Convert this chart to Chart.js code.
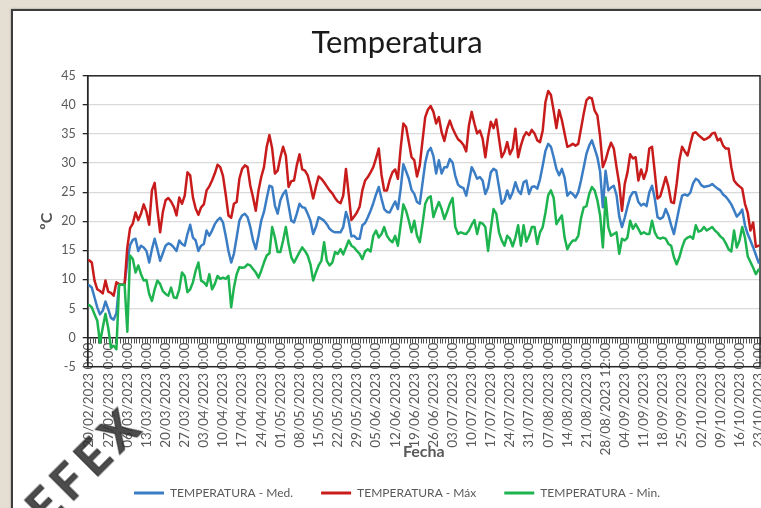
<!DOCTYPE html>
<html>
<head>
<meta charset="utf-8">
<script src="https://cdn.jsdelivr.net/npm/chart.js@4.4.1/dist/chart.umd.min.js"></script>
<style>
  html, body { margin: 0; padding: 0; width: 761px; height: 508px; overflow: hidden; background: #e5dfd3; }
  #frame { position: absolute; left: 11px; top: 9px; width: 780px; height: 520px; background: #fff;
           border: 2px solid #3d3d3d; box-shadow: 0 0 2px rgba(0,0,0,0.35); }
  #chart { position: absolute; left: 0; top: 0; }
  #mark { position: absolute; left: 84px; top: 464px; transform: translate(-50%, -50%) rotate(-45deg);
          font: bold 48px Lato, sans-serif; letter-spacing: 7px; color: rgba(45,45,45,0.85);
          -webkit-text-stroke: 1.2px rgba(45,45,45,0.85); filter: blur(0.4px); white-space: nowrap; }
</style>
</head>
<body>
<div id="frame"><canvas id="chart" width="768" height="510"></canvas></div>
<div id="mark">EFEX</div>
<script>
// Daily temperatures (ºC), 20/02/2023 – 23/10/2023
const maxValues = [
  13.3,12.9,9.8,8.3,8.0,7.6,9.8,7.9,7.7,7.2,
  9.5,9.2,9.1,9.2,15.5,18.8,19.6,21.5,20.2,21.3,
  22.9,21.6,19.4,25.3,26.6,22.0,18.1,21.6,23.6,24.0,
  23.4,22.5,21.0,24.1,23.0,24.4,28.4,27.9,24.1,22.2,
  21.1,22.4,22.9,25.3,26.0,27.0,28.2,29.7,29.3,27.8,
  24.6,21.0,20.6,23.0,23.3,27.3,29.0,29.6,29.3,26.1,
  24.1,21.8,25.3,27.6,29.3,32.8,34.8,32.5,28.2,28.7,
  31.0,32.8,31.3,25.9,26.9,27.0,29.6,31.5,28.9,28.7,
  27.9,26.1,23.9,25.9,27.7,27.3,26.7,26.0,25.3,24.8,
  24.0,23.4,23.1,24.4,29.0,24.7,20.2,20.8,21.5,22.5,
  25.3,27.0,27.6,28.4,29.3,30.8,32.5,28.0,25.3,25.3,
  27.1,28.4,28.9,27.3,32.5,36.8,36.2,33.6,31.0,30.5,
  27.7,29.6,33.8,37.9,39.2,39.8,38.8,36.8,37.9,35.3,
  33.8,35.9,37.3,36.0,35.0,34.1,33.7,33.1,32.0,36.5,
  38.8,36.8,35.1,35.6,34.2,31.0,34.5,37.1,36.0,37.5,
  34.2,31.0,31.9,33.6,31.5,32.5,35.9,31.0,33.0,34.5,
  35.3,34.8,35.7,35.1,33.9,33.6,35.6,40.5,42.4,41.7,
  39.0,36.0,39.1,37.4,35.1,32.8,33.0,33.3,33.0,33.3,
  35.9,38.5,40.8,41.3,41.1,39.0,38.2,34.5,29.3,30.5,
  32.2,33.5,32.5,29.3,26.4,21.8,26.4,28.4,31.5,30.8,
  31.0,27.0,28.9,27.3,28.7,32.5,32.8,28.4,23.9,24.3,
  25.9,27.6,25.9,23.3,23.1,26.4,30.5,32.8,32.0,31.3,
  33.3,35.1,35.3,34.8,34.4,34.0,34.2,34.5,35.1,35.2,
  33.9,34.2,33.0,32.5,32.5,29.3,27.0,26.4,26.0,25.6,
  23.0,21.5,18.4,19.8,15.6,15.8
];

const medValues = [
  9.0,8.6,6.9,5.2,4.0,4.6,6.2,4.9,3.4,3.1,
  4.2,9.1,9.1,9.1,13.0,15.9,16.8,17.0,14.9,15.8,
  15.5,14.9,12.9,15.2,17.0,15.2,13.2,14.5,15.8,16.2,
  16.0,15.5,14.9,16.7,16.1,15.8,17.8,19.4,17.2,16.7,
  14.9,15.8,16.1,18.4,17.5,18.4,19.5,20.2,20.6,19.8,
  17.5,14.9,12.9,14.4,17.2,20.1,21.0,21.3,20.7,19.0,
  16.7,15.2,17.5,20.1,21.6,23.9,26.1,25.9,22.7,21.3,
  23.6,24.7,25.3,22.7,20.1,19.8,21.3,23.0,22.4,22.3,
  21.3,20.1,17.8,19.0,20.7,20.4,20.1,19.5,18.7,18.3,
  18.1,18.1,18.1,19.0,21.6,20.1,17.4,17.5,17.0,17.0,
  19.3,19.7,20.7,21.8,23.1,24.6,25.9,23.9,22.1,21.6,
  21.5,22.5,23.4,22.1,25.5,29.8,28.6,27.3,25.4,24.7,
  23.3,23.0,26.5,30.0,32.0,32.6,31.2,28.2,30.5,28.2,
  29.3,29.3,30.7,30.1,27.8,26.3,25.9,25.7,24.4,26.7,
  29.3,28.4,27.3,27.6,27.0,24.7,25.8,28.4,29.0,28.7,
  25.9,23.0,23.6,25.3,23.9,25.0,26.7,25.3,24.7,26.7,
  27.0,24.7,25.9,26.0,25.6,27.2,29.6,32.1,33.3,32.8,
  31.0,29.0,27.9,29.0,27.5,24.4,25.0,24.7,24.1,25.0,
  27.0,29.3,31.6,33.0,33.9,32.5,31.0,28.5,22.4,28.7,
  25.3,25.8,26.1,24.5,20.8,19.0,20.6,22.5,24.2,25.0,
  25.0,23.3,22.7,23.0,22.6,25.0,26.1,23.9,20.7,20.4,
  20.7,22.1,21.0,19.3,17.8,20.1,22.4,24.4,24.6,24.4,
  24.9,26.5,27.3,27.0,26.2,25.9,26.0,26.1,26.4,26.0,
  25.6,25.3,24.6,24.2,23.6,22.9,21.9,20.8,21.3,22.0,
  19.3,17.8,16.7,15.5,14.2,12.9
];

const minValues = [
  5.6,5.2,4.0,2.9,-0.9,1.7,4.1,1.7,-1.7,-1.4,
  -2.0,9.1,9.1,9.1,1.0,14.1,13.5,11.2,12.4,10.9,
  9.8,9.9,7.5,6.3,8.3,9.8,9.2,8.0,7.5,7.2,
  8.6,6.9,6.8,8.3,11.2,10.6,7.8,8.3,9.5,11.5,
  12.9,9.8,9.5,8.9,10.9,8.3,9.2,10.6,10.1,10.3,
  10.1,10.6,5.2,8.6,10.9,12.1,12.0,12.1,12.6,12.4,
  11.8,11.2,10.3,11.5,12.9,14.1,14.5,19.0,17.2,14.7,
  14.7,16.7,19.0,16.1,13.8,12.9,13.8,14.7,15.5,14.9,
  14.1,12.6,9.8,11.2,12.4,13.2,16.4,13.2,12.4,12.9,
  14.7,14.4,15.2,14.3,15.5,16.7,15.8,15.5,14.9,14.4,
  13.5,14.8,15.2,14.8,17.5,18.4,17.2,17.8,19.0,17.5,
  16.8,16.4,17.5,15.8,19.3,22.9,21.8,20.1,18.1,20.1,
  17.5,16.4,19.5,23.0,24.0,24.3,20.7,22.1,23.3,22.1,
  20.4,21.6,23.0,24.0,19.0,17.8,18.1,17.9,17.8,18.4,
  19.4,20.2,17.8,19.8,19.6,19.0,14.9,18.7,22.1,21.3,
  18.1,16.7,15.8,17.5,17.0,15.7,17.2,19.3,15.8,19.3,
  16.5,17.5,19.0,19.0,16.1,18.1,19.0,21.5,24.5,25.3,
  24.0,19.5,20.3,21.0,17.2,15.2,16.1,16.7,16.7,17.5,
  20.5,22.4,22.6,24.7,25.9,25.3,23.6,21.0,15.5,24.1,
  19.0,17.5,17.8,18.1,14.4,17.0,16.7,17.2,20.1,18.7,
  19.5,18.7,17.8,18.1,17.8,17.8,20.1,18.1,17.2,17.0,
  17.2,17.0,16.1,15.8,13.8,12.6,13.8,15.5,16.8,17.2,
  17.4,17.0,19.3,18.2,18.4,19.0,18.4,18.7,19.0,18.4,
  18.0,17.4,17.0,16.2,15.2,14.8,18.4,15.5,16.7,19.0,
  17.2,14.0,13.0,12.0,10.9,11.7
];

// Weekly labels shown under the date axis (one every 7 categories)
const tickLabels = [
  '20/02/2023 0:00','27/02/2023 0:00','06/03/2023 0:00','13/03/2023 0:00','20/03/2023 0:00',
  '27/03/2023 0:00','03/04/2023 0:00','10/04/2023 0:00','17/04/2023 0:00','24/04/2023 0:00',
  '01/05/2023 0:00','08/05/2023 0:00','15/05/2023 0:00','22/05/2023 0:00','29/05/2023 0:00',
  '05/06/2023 0:00','12/06/2023 0:00','19/06/2023 0:00','26/06/2023 0:00','03/07/2023 0:00',
  '10/07/2023 0:00','17/07/2023 0:00','24/07/2023 0:00','31/07/2023 0:00','07/08/2023 0:00',
  '14/08/2023 0:00','21/08/2023 0:00','28/08/2023 12:00','04/09/2023 0:00','11/09/2023 0:00',
  '18/09/2023 0:00','25/09/2023 0:00','02/10/2023 0:00','09/10/2023 0:00','16/10/2023 0:00',
  '23/10/2023 0:00'
];
const TICK_EVERY = 7;
const NOON_RECORD = 189; // the 28/08 record is stamped at 12:00

// One category per daily record
const firstDay = Date.UTC(2023, 1, 20);
const categories = medValues.map((_, i) => {
  const d = new Date(firstDay + i * 86400000);
  const dd = String(d.getUTCDate()).padStart(2, '0');
  const mm = String(d.getUTCMonth() + 1).padStart(2, '0');
  return dd + '/' + mm + '/' + d.getUTCFullYear() + (i === NOON_RECORD ? ' 12:00' : ' 0:00');
});

const FONT = 'Lato, "Open Sans", sans-serif';
const GREY = '#595959';
const AXIS = '#262626';
const BLUE = '#3b7dc4', RED = '#c81c1c', GREEN = '#1db34f';
const LEGEND_TOP = 448;   // legend row sits below the date labels and the axis title

// dark outline round the plot area
const plotFrame = {
  id: 'plotFrame',
  beforeDatasetsDraw(chart) {
    const { ctx, chartArea: a } = chart;
    ctx.save();
    ctx.strokeStyle = AXIS;
    ctx.lineWidth = 1.5;
    ctx.strokeRect(a.left, a.top, a.right - a.left, a.bottom - a.top);
    ctx.restore();
  }
};

// move the legend row down under the rotated date labels
const legendRow = {
  id: 'legendRow',
  afterLayout(chart) {
    const lg = chart.legend;
    if (!lg) return;
    const dy = LEGEND_TOP - lg.top;
    lg.top += dy;
    lg.bottom += dy;
  }
};

new Chart(document.getElementById('chart'), {
  type: 'line',
  data: {
    labels: categories,
    datasets: [
      { label: 'TEMPERATURA - Med.', data: medValues, borderColor: BLUE, backgroundColor: BLUE, order: 3 },
      { label: 'TEMPERATURA - Máx', data: maxValues, borderColor: RED, backgroundColor: RED, order: 2 },
      { label: 'TEMPERATURA - Min.', data: minValues, borderColor: GREEN, backgroundColor: GREEN, order: 1 }
    ]
  },
  options: {
    responsive: false,
    animation: false,
    events: [],
    elements: {
      line: { borderWidth: 2.5, tension: 0, borderJoinStyle: 'round', borderCapStyle: 'round' },
      point: { radius: 0, hoverRadius: 0 }
    },
    layout: { padding: { left: 0, right: 0, top: 0, bottom: 104.3 } },
    plugins: {
      title: {
        display: true, text: 'Temperatura', color: '#1a1a1a',
        font: { family: FONT, size: 31, weight: 'normal' },
        padding: { top: 13, bottom: 14.6 }
      },
      legend: {
        position: 'bottom',
        labels: {
          boxWidth: 30, boxHeight: 3, padding: 28, color: GREY,
          font: { family: FONT, size: 12 },
          sort: (a, b) => a.datasetIndex - b.datasetIndex,
          generateLabels: (chart) =>
            Chart.defaults.plugins.legend.labels.generateLabels(chart).map(it => Object.assign(it, { lineWidth: 0 }))
        }
      },
      tooltip: { enabled: false }
    },
    scales: {
      x: {
        type: 'category',
        position: { y: 0 },
        offset: true,
        grid: { drawOnChartArea: false, drawTicks: true, tickLength: 5, color: '#4d4d4d', lineWidth: 1, offset: true },
        border: { display: true, color: AXIS, width: 1.5 },
        ticks: {
          autoSkip: false, minRotation: 90, maxRotation: 90, padding: 0,
          color: GREY, font: { family: FONT, size: 13.5 },
          callback: (value, index) => (index % TICK_EVERY === 0 ? tickLabels[index / TICK_EVERY] : '')
        },
        title: {
          display: true, text: 'Fecha', color: GREY,
          font: { family: FONT, size: 16, weight: 'bold' },
          padding: { top: 0, bottom: -118.4 }
        },
        afterFit: (scale) => { scale.height = 5; }
      },
      y: {
        min: -5, max: 45,
        ticks: { stepSize: 5, color: GREY, padding: 7, font: { family: FONT, size: 12.5 } },
        grid: { color: '#d9d9d9', lineWidth: 1.3, tickColor: AXIS, tickLength: 5 },
        border: { display: true, color: AXIS, width: 1.5 },
        title: {
          display: true, text: 'ºC', color: GREY,
          font: { family: FONT, size: 16, weight: 'bold' },
          padding: { top: 24, bottom: 0 }
        },
        afterFit: (scale) => { scale.width = 74.7; }
      },
      yRight: {
        type: 'linear',
        position: 'right',
        grid: { display: false },
        border: { display: false },
        ticks: { display: false },
        afterFit: (scale) => { scale.width = 21; }
      }
    }
  },
  plugins: [plotFrame, legendRow]
});
</script>
</body>
</html>
